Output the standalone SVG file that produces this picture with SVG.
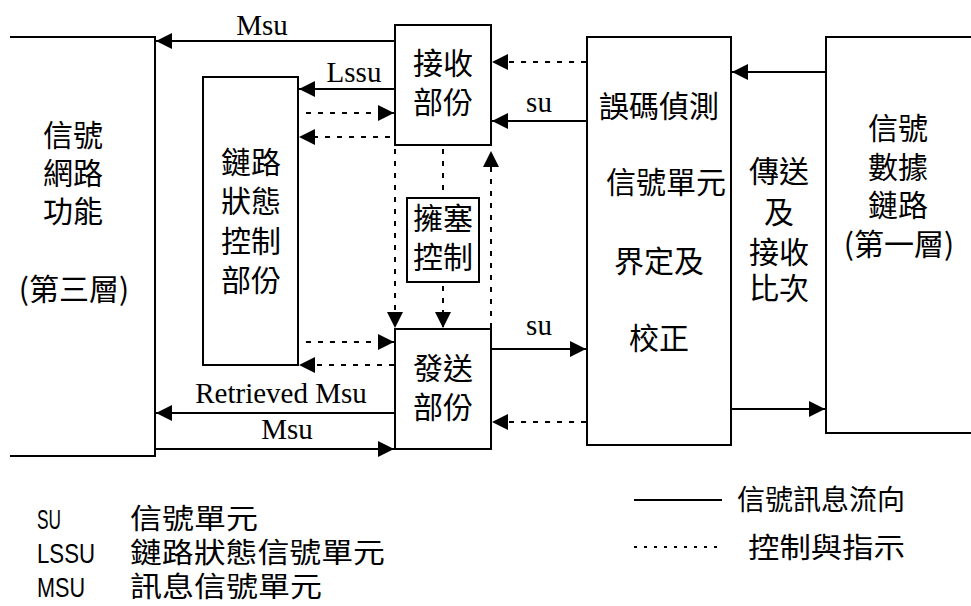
<svg xmlns="http://www.w3.org/2000/svg" width="971" height="606" viewBox="0 0 971 606">
<defs>
<style>
.ln{stroke:#000;stroke-width:2;fill:none}
.dl{stroke:#000;stroke-width:2;fill:none;stroke-dasharray:5 7}
.bx{stroke:#000;stroke-width:2;fill:#fff}
.cj{font-family:"Noto Sans CJK TC","Noto Sans CJK SC",sans-serif;font-size:30px;fill:#000;text-anchor:middle}
.lt{font-family:"Liberation Serif",serif;font-size:29px;fill:#000;text-anchor:middle}
.lg{font-family:"Noto Sans CJK TC","Noto Sans CJK SC",sans-serif;font-size:28px;fill:#000}
.ab{font-family:"Liberation Sans Narrow","Liberation Sans",sans-serif;font-size:28px;fill:#000}
</style>
<marker id="ah" markerUnits="userSpaceOnUse" markerWidth="16" markerHeight="16" refX="16" refY="8" orient="auto">
<path d="M0,0 L16,8 L0,16 z" fill="#000"/>
</marker>
</defs>
<rect width="971" height="606" fill="#fff"/>

<g id="n-network">
<path class="ln" d="M10,37 H155 V456 H10"/>
<text class="cj" x="73" y="146">信號</text>
<text class="cj" x="73" y="184">網路</text>
<text class="cj" x="73" y="222">功能</text>
<text class="cj" x="74" y="300">(第三層)</text>
</g>
<g id="n-linkstatus">
<rect class="bx" x="203" y="77" width="95" height="288"/>
<text class="cj" x="251" y="173">鏈路</text>
<text class="cj" x="251" y="212">狀態</text>
<text class="cj" x="251" y="252">控制</text>
<text class="cj" x="251" y="291">部份</text>
</g>
<g id="n-receive">
<rect class="bx" x="395" y="25" width="96" height="120"/>
<text class="cj" x="443" y="74">接收</text>
<text class="cj" x="443" y="113">部份</text>
</g>
<g id="n-congestion">
<rect class="bx" x="407" y="198" width="72" height="84"/>
<text class="cj" x="443" y="229">擁塞</text>
<text class="cj" x="443" y="268">控制</text>
</g>
<g id="n-send">
<rect class="bx" x="395" y="329" width="96" height="120"/>
<text class="cj" x="443" y="379">發送</text>
<text class="cj" x="443" y="418">部份</text>
</g>
<g id="n-error">
<rect class="bx" x="587" y="37" width="144" height="408"/>
<text class="cj" x="659" y="117">誤碼偵測</text>
<text class="cj" x="666" y="193">信號單元</text>
<text class="cj" x="659" y="272">界定及</text>
<text class="cj" x="659" y="349">校正</text>
</g>
<g id="n-transfer">
<text class="cj" x="779" y="182">傳送</text>
<text class="cj" x="779" y="223">及</text>
<text class="cj" x="779" y="263">接收</text>
<text class="cj" x="779" y="299">比次</text>
</g>
<g id="n-datalink">
<path class="ln" d="M971,37 H826 V433 H971"/>
<text class="cj" x="898" y="139">信號</text>
<text class="cj" x="898" y="178">數據</text>
<text class="cj" x="898" y="216">鏈路</text>
<text class="cj" x="899" y="255">(第一層)</text>
</g>

<g id="connectors">
<line class="ln" x1="395" y1="41" x2="156" y2="41" marker-end="url(#ah)"/>
<line class="ln" x1="395" y1="89" x2="299" y2="89" marker-end="url(#ah)"/>
<line class="ln" x1="587" y1="121" x2="492" y2="121" marker-end="url(#ah)"/>
<line class="ln" x1="826" y1="72" x2="732" y2="72" marker-end="url(#ah)"/>
<line class="ln" x1="491" y1="349" x2="586" y2="349" marker-end="url(#ah)"/>
<line class="ln" x1="731" y1="409" x2="825" y2="409" marker-end="url(#ah)"/>
<line class="ln" x1="395" y1="413" x2="156" y2="413" marker-end="url(#ah)"/>
<line class="ln" x1="156" y1="449" x2="394" y2="449" marker-end="url(#ah)"/>
<line class="dl" x1="306" y1="113" x2="394" y2="113" marker-end="url(#ah)"/>
<line class="dl" x1="390" y1="137" x2="299" y2="137" marker-end="url(#ah)"/>
<line class="dl" x1="586" y1="62" x2="492" y2="62" marker-end="url(#ah)"/>
<line class="dl" x1="306" y1="342" x2="394" y2="342" marker-end="url(#ah)"/>
<line class="dl" x1="394" y1="365" x2="299" y2="365" marker-end="url(#ah)"/>
<line class="dl" x1="586" y1="422" x2="492" y2="422" marker-end="url(#ah)"/>
<line class="dl" x1="395" y1="149" x2="395" y2="328" marker-end="url(#ah)"/>
<line class="dl" x1="443" y1="149" x2="443" y2="197"/>
<line class="dl" x1="443" y1="286" x2="443" y2="328" marker-end="url(#ah)"/>
<line class="dl" x1="491" y1="328" x2="491" y2="151" marker-end="url(#ah)"/>
<text class="lt" x="262" y="35">Msu</text>
<text class="lt" x="354" y="82">Lssu</text>
<text class="lt" x="539" y="112">su</text>
<text class="lt" x="539" y="335">su</text>
<text class="lt" x="281" y="403">Retrieved Msu</text>
<text class="lt" x="287" y="439">Msu</text>
</g>

<g id="legend">
<text class="ab" x="37" y="529" textLength="24" lengthAdjust="spacingAndGlyphs">SU</text>
<text class="ab" x="37" y="563" textLength="58" lengthAdjust="spacingAndGlyphs">LSSU</text>
<text class="ab" x="37" y="597" textLength="48" lengthAdjust="spacingAndGlyphs">MSU</text>
<text class="lg" x="130" y="529" textLength="128" lengthAdjust="spacingAndGlyphs">信號單元</text>
<text class="lg" x="130" y="563" textLength="255" lengthAdjust="spacingAndGlyphs">鏈路狀態信號單元</text>
<text class="lg" x="130" y="597" textLength="192" lengthAdjust="spacingAndGlyphs">訊息信號單元</text>
<line class="ln" x1="634" y1="500" x2="722" y2="500"/>
<line x1="634" y1="547" x2="722" y2="547" stroke="#000" stroke-width="2" stroke-dasharray="3 7"/>
<text class="lg" x="737" y="510" textLength="168" lengthAdjust="spacingAndGlyphs">信號訊息流向</text>
<text class="lg" x="748" y="558" textLength="157" lengthAdjust="spacingAndGlyphs">控制與指示</text>
</g>
</svg>
